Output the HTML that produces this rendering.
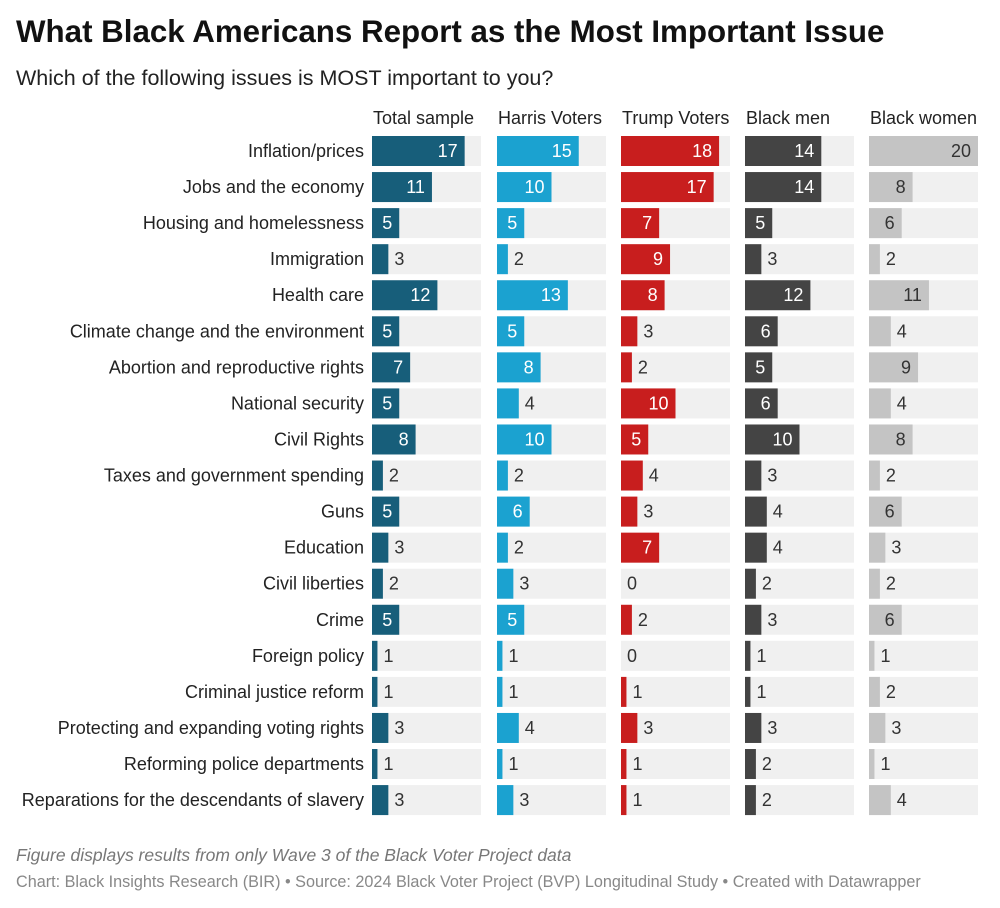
<!DOCTYPE html>
<html><head><meta charset="utf-8">
<style>
body{margin:0;background:#fff;font-family:"Liberation Sans",sans-serif;color:#222;}
#wrap{position:relative;width:1000px;height:908px;overflow:hidden}
.t{position:absolute;white-space:nowrap}
</style></head><body>
<div id="wrap">
<div class="t" style="left:16px;top:14px;font-size:31.3px;font-weight:bold;color:#111">What Black Americans Report as the Most Important Issue</div>
<div class="t" style="left:16px;top:66px;font-size:21.5px;color:#222">Which of the following issues is MOST important to you?</div>
<svg id="svg" width="1000" height="908" style="position:absolute;left:0;top:0"></svg>
<div class="t" style="left:16px;top:845px;font-size:17.5px;font-style:italic;color:#777">Figure displays results from only Wave 3 of the Black Voter Project data</div>
<div class="t" style="left:16px;top:873px;font-size:16.2px;color:#888">Chart: Black Insights Research (BIR) • Source: 2024 Black Voter Project (BVP) Longitudinal Study • Created with Datawrapper</div>
</div>
<script>
const categories=["Inflation/prices","Jobs and the economy","Housing and homelessness","Immigration","Health care","Climate change and the environment","Abortion and reproductive rights","National security","Civil Rights","Taxes and government spending","Guns","Education","Civil liberties","Crime","Foreign policy","Criminal justice reform","Protecting and expanding voting rights","Reforming police departments","Reparations for the descendants of slavery"];
const seriesNames=["Total sample","Harris Voters","Trump Voters","Black men","Black women"];
const totalSample=[17,11,5,3,12,5,7,5,8,2,5,3,2,5,1,1,3,1,3];
const harrisVoters=[15,10,5,2,13,5,8,4,10,2,6,2,3,5,1,1,4,1,3];
const trumpVoters=[18,17,7,9,8,3,2,10,5,4,3,7,0,2,0,1,3,1,1];
const blackMen=[14,14,5,3,12,6,5,6,10,3,4,4,2,3,1,1,3,2,2];
const blackWomen=[20,8,6,2,11,4,9,4,8,2,6,3,2,6,1,2,3,1,4];
const series=[totalSample,harrisVoters,trumpVoters,blackMen,blackWomen];
const colors=["#175e7a","#1ba2d0","#c81e1e","#444444","#c4c4c4"];
const labelIn=["#fff","#fff","#fff","#fff","#333"];
const xMax=20;
const colX=[372,497,621,745,869], colW=109, top0=136, pitch=36.06, barH=30;
const xs=v=>v/xMax*colW;
const ys=i=>top0+i*pitch;
const svg=document.getElementById('svg');
const NS="http://www.w3.org/2000/svg";
function mk(tag,attrs,txt){const e=document.createElementNS(NS,tag);for(const k in attrs)e.setAttribute(k,attrs[k]);if(txt!==undefined)e.textContent=txt;svg.appendChild(e);return e;}
seriesNames.forEach((n,s)=>{
  const h=mk('text',{x:colX[s]+1,y:124,'font-size':18,fill:'#222','font-family':'Liberation Sans, sans-serif'},n);
  
  
});
categories.forEach((c,i)=>{
  const t=mk('text',{x:364,y:ys(i)+21,'font-size':18,fill:'#222','text-anchor':'end','font-family':'Liberation Sans, sans-serif'},c);
  
  
  series.forEach((arr,s)=>{
    const v=arr[i];
    const bg=mk('rect',{x:colX[s],y:ys(i),width:colW,height:barH,fill:'#f0f0f0'});
    
    
    const w=xs(v);
    const b=mk('rect',{x:colX[s],y:ys(i),width:w,height:barH,fill:colors[s]});
    
    
    const inside=w>=25;
    const lx=inside?colX[s]+w-7:colX[s]+w+6;
    const l=mk('text',{x:lx,y:ys(i)+21,'font-size':18,fill:inside?labelIn[s]:'#333','text-anchor':inside?'end':'start','font-family':'Liberation Sans, sans-serif'},String(v));
    
    
  });
});
</script>
</body></html>
